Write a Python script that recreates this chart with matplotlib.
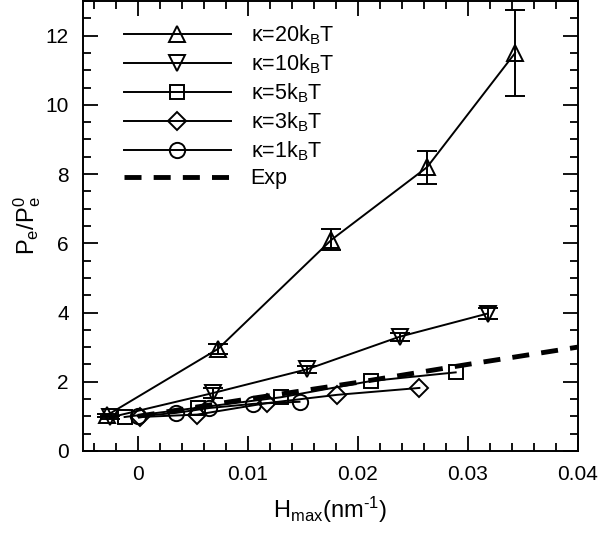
import matplotlib
matplotlib.use("Agg")
import matplotlib.pyplot as plt
from matplotlib.lines import Line2D
from matplotlib.ticker import MultipleLocator

plt.rcParams['font.family'] = ['Liberation Sans', 'DejaVu Sans']
plt.rcParams['mathtext.fontset'] = 'custom'
plt.rcParams['mathtext.rm'] = 'Liberation Sans'
plt.rcParams['mathtext.it'] = 'Liberation Sans:italic'
plt.rcParams['axes.unicode_minus'] = False

# kappa = 20 kBT
x20 = [-0.0028, 0.0073, 0.0176, 0.0263, 0.0343]
y20 = [1.03, 2.95, 6.1, 8.2, 11.5]
e20 = [0.05, 0.15, 0.3, 0.48, 1.25]
# kappa = 10 kBT
x10 = [-0.0025, 0.0068, 0.0154, 0.0238, 0.0318]
y10 = [0.97, 1.67, 2.36, 3.3, 3.97]
e10 = [0.05, 0.15, 0.1, 0.12, 0.15]
# kappa = 5 kBT
x5 = [-0.0012, 0.0055, 0.0130, 0.0212, 0.0289]
y5 = [0.98, 1.25, 1.55, 2.02, 2.27]
# kappa = 3 kBT
x3 = [0.0002, 0.0054, 0.0117, 0.0181, 0.0256]
y3 = [0.98, 1.05, 1.38, 1.62, 1.82]
# kappa = 1 kBT
x1 = [0.0, 0.0035, 0.0065, 0.0105, 0.0147]
y1 = [1.0, 1.1, 1.24, 1.36, 1.42]
# experiment
xexp = [0.0, 0.01, 0.02, 0.03, 0.04]
yexp = [1.0, 1.5, 1.98, 2.5, 3.0]

labels = ['κ=20k$_{\\rm B}$T', 'κ=10k$_{\\rm B}$T', 'κ=5k$_{\\rm B}$T',
          'κ=3k$_{\\rm B}$T', 'κ=1k$_{\\rm B}$T', 'Exp']

fig = plt.figure(figsize=(6, 5.33), dpi=100)
ax = fig.add_axes([0.138, 0.154, 0.825, 0.844])

kw = dict(color='black', lw=1.4, ms=11, mfc='none', mew=1.4)
ax.errorbar(x20, y20, yerr=e20, marker='^', capsize=7, elinewidth=1.4,
            capthick=1.4, **kw)
ax.errorbar(x10, y10, yerr=e10, marker='v', capsize=7, elinewidth=1.4,
            capthick=1.4, **kw)
ax.plot(x5, y5, marker='s', **{**kw, 'ms': 10})
ax.plot(x3, y3, marker='D', **{**kw, 'ms': 9.5})
ax.plot(x1, y1, marker='o', **kw)
ax.plot(xexp, yexp, color='black', lw=3.5, ls=(0, (3.5, 2.5)))

handles = [Line2D([], [], marker='^', **kw),
           Line2D([], [], marker='v', **kw),
           Line2D([], [], marker='s', **{**kw, 'ms': 10}),
           Line2D([], [], marker='D', **{**kw, 'ms': 9.5}),
           Line2D([], [], marker='o', **kw),
           Line2D([], [], color='black', lw=3.5, ls=(0, (3.5, 2.5)))]

ax.set_xlim(-0.005, 0.04)
ax.set_ylim(0, 13)
ax.set_xticks([0, 0.01, 0.02, 0.03, 0.04])
ax.set_xticklabels(['0', '0.01', '0.02', '0.03', '0.04'])
ax.xaxis.set_minor_locator(MultipleLocator(0.002))
ax.yaxis.set_major_locator(MultipleLocator(2))
ax.yaxis.set_minor_locator(MultipleLocator(0.5))
ax.tick_params(which='both', direction='in', top=True, right=True,
               labelsize=15, width=1.3)
ax.tick_params(which='major', length=11, pad=10)
ax.tick_params(which='minor', length=6)
for s in ax.spines.values():
    s.set_linewidth(1.4)

ax.set_xlabel('H$_{\\rm max}$(nm$^{\\rm \u2010 1}$)', fontsize=17, labelpad=8)
ax.set_ylabel('P$_{\\rm e}$/P$_{\\rm e}^{\\rm 0}$', fontsize=17, labelpad=2)

ax.legend(handles, labels, loc='upper left', frameon=False, fontsize=15.5,
          handlelength=5.0, labelspacing=0.25, borderaxespad=0,
          handletextpad=0.9, bbox_to_anchor=(0.065, 0.97))

fig.savefig('out.png', dpi=100)
